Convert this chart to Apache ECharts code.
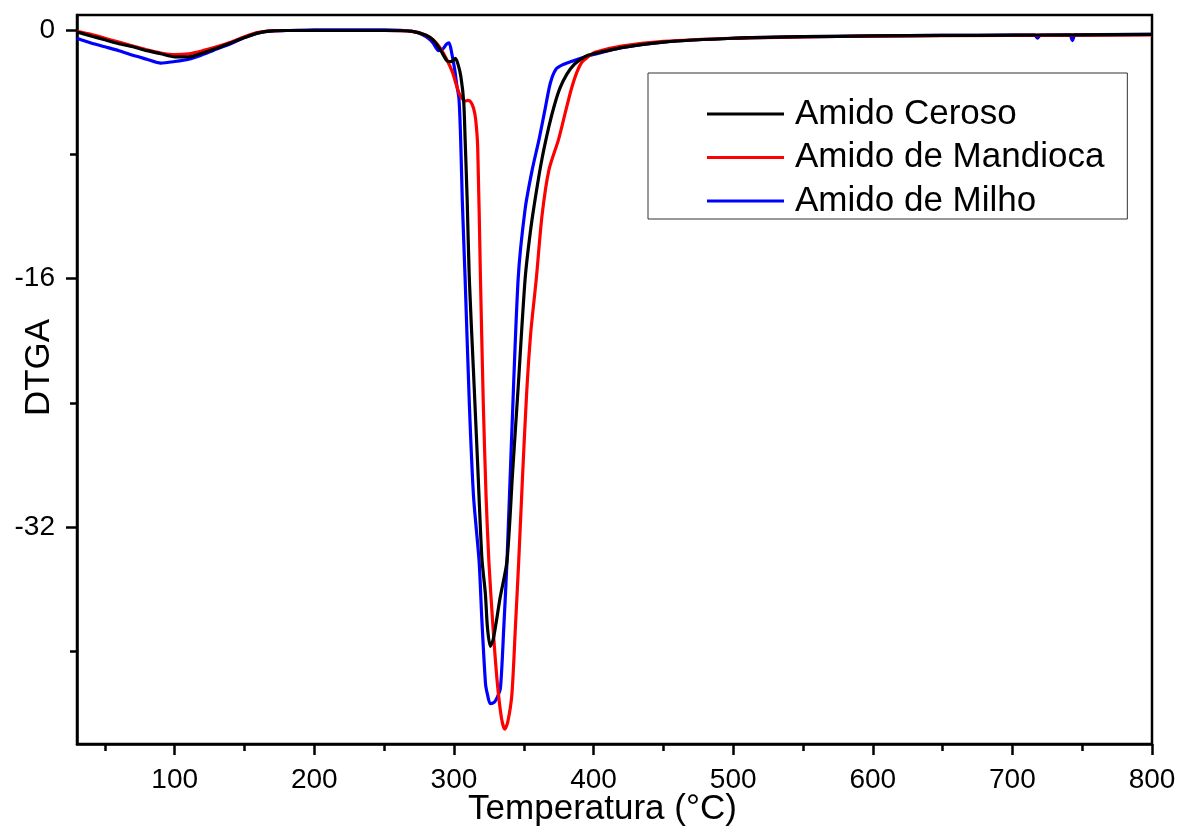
<!DOCTYPE html>
<html>
<head>
<meta charset="utf-8">
<script src="https://cdn.jsdelivr.net/npm/echarts@6/dist/echarts.min.js"></script>
<style>
    html, body { margin: 0; padding: 0; background: #fff; }
    #grafico { width: 1178px; height: 828px; }
</style>
</head>
<body>
<div id="grafico"></div>
<script>
// Amido Ceroso (preto)
var tempCeroso = [30, 40, 50, 60, 70, 80, 90, 100, 110, 120, 130, 140, 150, 160, 170, 180, 200, 250, 270, 280, 285, 290, 295, 298, 301, 303, 305, 307, 308, 309.5, 311, 314, 317, 320, 322.5, 324, 326, 328, 330, 333, 338, 342, 346, 351, 355, 359, 363, 368, 372, 376, 381, 386, 391, 396, 400, 420, 450, 500, 550, 600, 650, 700, 750, 800];
var dtgaCeroso = [-0.1, -0.35, -0.6, -0.85, -1.05, -1.3, -1.5, -1.7, -1.7, -1.45, -1.15, -0.8, -0.45, -0.15, -0.02, 0, 0, 0, -0.05, -0.3, -0.6, -1.2, -1.95, -2.0, -1.8, -2.2, -3.0, -4.6, -7, -11, -16, -22, -28, -34, -36.3, -38.5, -39.7, -39.3, -38.3, -36.6, -34.2, -28.5, -23, -16, -12.8, -10.4, -8.3, -6.2, -4.8, -3.7, -2.8, -2.2, -1.85, -1.6, -1.5, -1.1, -0.75, -0.5, -0.4, -0.35, -0.32, -0.3, -0.28, -0.25];

// Amido de Mandioca (vermelho)
var tempMandioca = [30, 40, 50, 60, 70, 80, 90, 100, 110, 120, 130, 140, 150, 160, 170, 180, 200, 250, 270, 280, 285, 290, 295, 299, 301, 303.5, 306, 308, 310, 312, 314, 315.5, 317, 319, 321, 323, 325, 328, 331, 334, 336.4, 338.5, 341.5, 344, 346.4, 349, 352, 355, 359, 363, 368, 375, 380, 384, 388, 391.6, 396, 401, 420, 450, 500, 550, 600, 700, 800];
var dtgaMandioca = [-0.05, -0.25, -0.5, -0.75, -1.0, -1.25, -1.45, -1.55, -1.5, -1.3, -1.05, -0.75, -0.4, -0.12, -0.02, 0, 0, 0, -0.05, -0.3, -0.6, -1.1, -1.9, -2.7, -3.3, -4.0, -4.4, -4.55, -4.5, -4.6, -5.0, -5.7, -7.5, -16, -24, -30, -34.2, -38.5, -42, -44.3, -45.05, -44.6, -42.8, -38.5, -34.2, -29, -23.5, -19.5, -16, -12, -9, -7, -5.2, -3.8, -2.7, -2.05, -1.7, -1.4, -1.0, -0.7, -0.5, -0.42, -0.36, -0.32, -0.28];

// Amido de Milho (azul)
var tempMilho = [30, 40, 50, 60, 70, 80, 90, 100, 110, 120, 130, 140, 150, 160, 170, 180, 200, 250, 270, 280, 285, 289, 292, 294.5, 296.5, 298.5, 300.5, 302, 303.6, 304.8, 306, 308, 311, 314, 318, 320, 322.6, 324, 326, 329, 331, 333.3, 335.7, 338, 341, 346, 351, 356, 361, 365, 369, 373, 378, 384, 392, 400, 420, 450, 500, 550, 600, 650, 700, 716, 718, 720, 741, 743, 745, 800];
var dtgaMilho = [-0.5, -0.8, -1.05, -1.3, -1.6, -1.85, -2.1, -2.0, -1.85, -1.55, -1.2, -0.85, -0.45, -0.15, -0.02, 0, 0.05, 0.05, -0.05, -0.4, -0.8, -1.3, -1.2, -0.9, -0.8, -1.5, -2.5, -3.5, -4.4, -7, -11, -16, -24, -30, -34.2, -38, -42.1, -42.8, -43.4, -43.3, -43, -42.4, -38.5, -34.2, -27, -16, -11.5, -9, -7, -5.2, -3.4, -2.5, -2.2, -2.0, -1.75, -1.55, -1.1, -0.75, -0.5, -0.4, -0.35, -0.32, -0.3, -0.3, -0.5, -0.3, -0.28, -0.65, -0.28, -0.25];

var xRotulos = [100, 200, 300, 400, 500, 600, 700, 800];
var xMenores = [50, 150, 250, 350, 450, 550, 650, 750];
var yRotulos = [0, -16, -32];
var yMenores = [-8, -24, -40];

function pares(x, y){
    var retornar = [];
    x.forEach(function(item, i){
        retornar.push([item, y[i]]);
    });
    return retornar;
}

function serie(nome, cor, x, y){
    return {
        name: nome,
        type: "line",
        data: pares(x, y),
        symbol: "none",
        smooth: 0.25,
        lineStyle: { color: cor, width: 3.2 },
        itemStyle: { color: cor }
    };
}

var fonte = "Liberation Sans, Arial, sans-serif";
var dom = document.getElementById("grafico");
var myChart = echarts.init(dom);
var option = {
    animation: false,
    backgroundColor: "#fff",
    textStyle: { fontFamily: fonte },
    grid: {
        left: 77, right: 26, top: 15, bottom: 84,
        outerBoundsMode: "none",
        containLabel: false,
        show: true, borderColor: "#000", borderWidth: 2.5
    },
    legend: {
        orient: "vertical",
        left: 648,
        top: 73,
        data: ["Amido Ceroso", "Amido de Mandioca", "Amido de Milho"],
        icon: "rect",
        itemWidth: 77,
        itemHeight: 3,
        itemGap: 7.5,
        padding: [23, 23, 0, 59],
        borderColor: "#333",
        borderWidth: 1,
        textStyle: { fontFamily: fonte, fontSize: 35, color: "#000", lineHeight: 36, padding: [0, 0, 0, 6] }
    },
    xAxis: [{
        type: "value",
        min: 30, max: 800,
        position: "bottom",
        name: "Temperatura (°C)",
        nameLocation: "middle",
        nameGap: 48,
        nameMoveOverlap: false,
        nameTextStyle: { fontFamily: fonte, fontSize: 35, color: "#000", padding: [0, 24, 0, 0] },
        axisLine: { onZero: false, lineStyle: { color: "#000", width: 2.5 } },
        axisTick: { length: 11, customValues: xRotulos, lineStyle: { color: "#000", width: 2.5 } },
        axisLabel: { customValues: xRotulos, margin: 22, fontSize: 28, color: "#000", fontFamily: fonte },
        splitLine: { show: false }
    }, {
        type: "value",
        min: 30, max: 800,
        position: "bottom",
        axisLine: { show: false, onZero: false },
        axisTick: { length: 7, customValues: xMenores, lineStyle: { color: "#000", width: 2.5 } },
        axisLabel: { show: false },
        splitLine: { show: false }
    }],
    yAxis: [{
        type: "value",
        min: -46, max: 1,
        position: "left",
        name: "DTGA",
        nameLocation: "middle",
        nameGap: 20,
        nameMoveOverlap: false,
        nameTextStyle: { fontFamily: fonte, fontSize: 35, color: "#000", padding: [0, 0, 0, 24] },
        axisLine: { show: true, onZero: false, lineStyle: { color: "#000", width: 2.5 } },
        axisTick: { show: true, length: 11, customValues: yRotulos, lineStyle: { color: "#000", width: 2.5 } },
        axisLabel: { customValues: yRotulos, margin: 22, fontSize: 28, color: "#000", fontFamily: fonte },
        splitLine: { show: false }
    }, {
        type: "value",
        min: -46, max: 1,
        position: "left",
        axisLine: { show: false, onZero: false },
        axisTick: { show: true, length: 7, customValues: yMenores, lineStyle: { color: "#000", width: 2.5 } },
        axisLabel: { show: false },
        splitLine: { show: false }
    }],
    series: [
        serie("Amido de Milho", "#0000ff", tempMilho, dtgaMilho),
        serie("Amido de Mandioca", "#ff0000", tempMandioca, dtgaMandioca),
        serie("Amido Ceroso", "#000000", tempCeroso, dtgaCeroso)
    ]
};
myChart.setOption(option, true);

window.addEventListener("resize", function(){
    if(myChart != null && myChart != undefined){
        myChart.resize();
    }
});
</script>
</body>
</html>
